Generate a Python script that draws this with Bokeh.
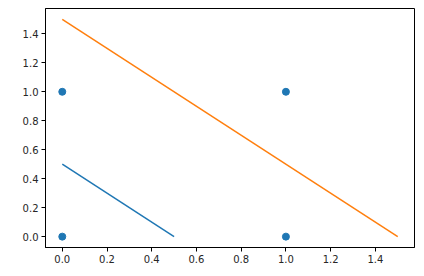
from bokeh.plotting import figure
from bokeh.models import Range1d, FixedTicker, NumeralTickFormatter, ColumnDataSource
from bokeh.embed import file_html
from bokeh.resources import INLINE

# Data
pts_x = [0, 0, 1, 1]
pts_y = [0, 1, 0, 1]
line1_x = [0, 0.5]
line1_y = [0.5, 0]
line2_x = [0, 1.5]
line2_y = [1.5, 0]
ticks = [0.0, 0.2, 0.4, 0.6, 0.8, 1.0, 1.2, 1.4]

p = figure(width=424, height=276, output_backend="svg", toolbar_location=None,
           x_range=Range1d(-0.075, 1.575), y_range=Range1d(-0.075, 1.575),
           min_border_left=45, min_border_right=10, min_border_top=8, min_border_bottom=29)
p.xgrid.visible = False
p.ygrid.visible = False
p.outline_line_color = "black"
p.outline_line_width = 1
p.outline_line_alpha = 1

for ax in (p.xaxis[0], p.yaxis[0]):
    ax.ticker = FixedTicker(ticks=ticks)
    ax.formatter = NumeralTickFormatter(format="0.0")
    ax.major_label_text_font = "DejaVu Sans"
    ax.major_label_text_font_size = "10px"
    ax.major_label_text_color = "#262626"
    ax.major_tick_in = 0
    ax.major_tick_out = 4
    ax.minor_tick_line_color = None
    ax.axis_line_color = "black"
    ax.major_tick_line_color = "black"
    ax.major_label_standoff = 3

src = ColumnDataSource(dict(x=pts_x, y=pts_y))
p.scatter("x", "y", source=src, size=7, color="#1f77b4")
p.line(line1_x, line1_y, line_color="#1f77b4", line_width=1.5)
p.line(line2_x, line2_y, line_color="#ff7f0e", line_width=1.5)

open("out.html", "w").write(file_html(p, INLINE))
